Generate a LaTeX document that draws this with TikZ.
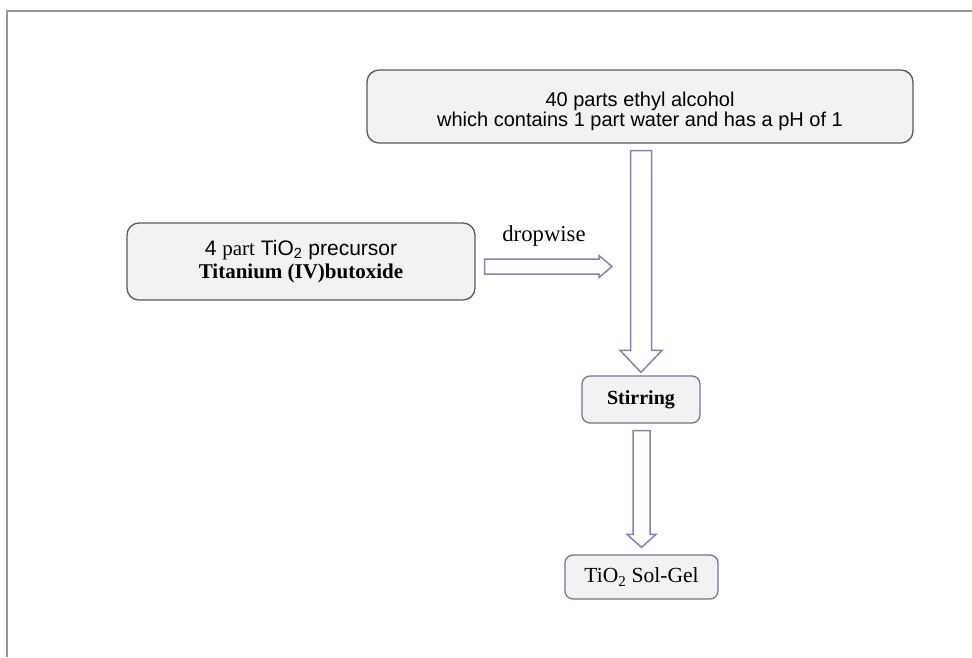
\documentclass[tikz,border=0pt]{standalone}
\usepackage{fontspec}
\setmainfont{Liberation Serif}
\setsansfont{Liberation Sans}
\usepackage{tikz}
\usetikzlibrary{calc}

\definecolor{framegray}{RGB}{150,150,150}
\definecolor{boxgray}{RGB}{242,242,242}
\definecolor{edgegray}{RGB}{90,90,90}
\definecolor{edgeblue}{RGB}{108,120,156}
\definecolor{arrowblue}{RGB}{122,136,178}

\tikzset{
  stepnode/.style={draw=edgegray, fill=boxgray, rounded corners=12pt, line width=1.3pt, align=center, inner sep=0pt},
  smallnode/.style={stepnode, draw=edgeblue, rounded corners=8pt},
  blockarrow/.style={draw=arrowblue, fill=white, line width=1.5pt, line join=miter},
}

% hollow block arrow pointing down: from, to, gap top, gap bottom, shaft half width, head half width, head length
\newcommand{\flowdown}[7]{%
  \draw[blockarrow] ($(#1 -| #2)+(-#5,#3)$) -- ($(#2)+(-#5,-#4-#7)$) -- ($(#2)+(-#6,-#4-#7)$)
    -- ($(#2)+(0,-#4)$) -- ($(#2)+(#6,-#4-#7)$) -- ($(#2)+(#5,-#4-#7)$) -- ($(#1 -| #2)+(#5,#3)$) -- cycle;}
% hollow block arrow pointing right: from, tip, shaft half width, head half width, head length
\newcommand{\flowright}[5]{%
  \draw[blockarrow] ($(#1)+(0,-#3)$) -- ($(#2)+(-#5,-#3)$) -- ($(#2)+(-#5,-#4)$)
    -- (#2) -- ($(#2)+(-#5,#4)$) -- ($(#2)+(-#5,#3)$) -- ($(#1)+(0,#3)$) -- cycle;}

\begin{document}
\begin{tikzpicture}[x=1pt, y=-1pt]
    \useasboundingbox (0,0) rectangle (972,657);

    % Frame
    \draw[framegray, line width=2pt] (7,657) -- (7,11) -- (972,11);

    % Solvent
    \node[stepnode, minimum width=546, minimum height=73, text height=45pt, font=\fontsize{20}{20}\selectfont\sffamily]
        (ethanol) at (640,106.5) {40 parts ethyl alcohol\\which contains 1 part water and has a pH of 1};

    % Precursor
    \node[stepnode, minimum width=348, minimum height=77, font=\fontsize{21}{23}\selectfont]
        (precursor) at (301,261.5) {\sffamily 4 {\rmfamily part} TiO\textsubscript{2} precursor\\\rmfamily\bfseries Titanium (IV)butoxide};

    % Dropwise addition
    \coordinate (dropin) at ($(precursor.east)+(9,5)$);
    \coordinate (dropout) at (612,266.5);
    \node[font=\fontsize{22.7}{24}\selectfont] (dropword) at (544,236.5) {dropwise};
    \flowright{dropin}{dropout}{7.5}{11}{13}

    % Stirring and product
    \node[smallnode, minimum width=118, minimum height=47, font=\fontsize{20}{22}\selectfont\bfseries]
        (stir) at (641,399.5) {Stirring};
    \node[smallnode, minimum width=153, minimum height=44, font=\fontsize{21.5}{22}\selectfont]
        (solgel) at (641.5,577) {TiO\textsubscript{2} Sol-Gel};

    \flowdown{ethanol.south}{stir.north}{7}{3}{10.5}{21}{22}
    \flowdown{stir.south}{solgel.north}{7}{7}{8.5}{14.5}{13}
\end{tikzpicture}
\end{document}
